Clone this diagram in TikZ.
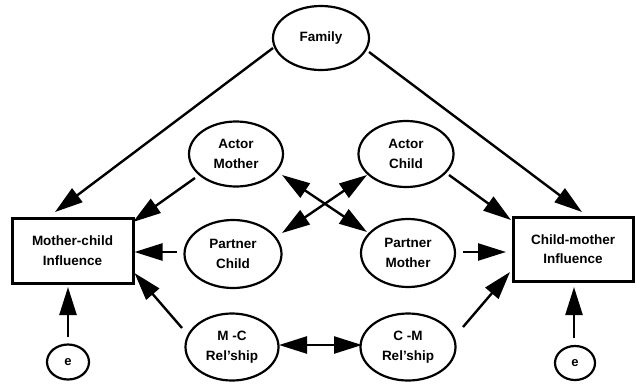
\documentclass[tikz,border=0pt]{standalone}
\usepackage{fontspec}
\setmainfont{Liberation Sans}
\usetikzlibrary{shapes.geometric,arrows.meta}
\begin{document}
\begin{tikzpicture}[x=1pt,y=-1pt,
  every node/.style={font=\bfseries\fontsize{13.5}{19.5}\selectfont, align=center, inner sep=0pt},
  latent/.style={ellipse, draw, line width=2.2pt},
  obsbox/.style={rectangle, draw, line width=3pt},
  conn/.style={line width=2.4pt, -{Triangle[length=28pt,width=17pt]}},
  bconn/.style={line width=2.4pt, {Triangle[length=28pt,width=17pt]}-{Triangle[length=28pt,width=17pt]}}]
\useasboundingbox (0,0) rectangle (636,383);
\node[latent, minimum width=96pt, minimum height=64pt] (fam) at (321,38) {Family};
\node[latent, minimum width=94pt, minimum height=65pt] (am) at (236,154) {Actor\\Mother};
\node[latent, minimum width=95pt, minimum height=66pt] (ac) at (406,154) {Actor\\Child};
\node[latent, minimum width=97pt, minimum height=68pt] (pc) at (233,254) {Partner\\Child};
\node[latent, minimum width=94pt, minimum height=68pt] (pm) at (408,253) {Partner\\Mother};
\node[latent, minimum width=93pt, minimum height=67pt] (mc) at (232,347) {M -C\\Rel'ship};
\node[latent, minimum width=95pt, minimum height=67pt] (cm) at (408,347) {C -M\\Rel'ship};
\node[obsbox, minimum width=121pt, minimum height=65pt] (mcb) at (72.5,250.5) {Mother-child\\Influence};
\node[obsbox, minimum width=120pt, minimum height=64pt] (cmb) at (573,249) {Child-mother\\Influence};
\node[latent, minimum width=42pt, minimum height=35pt] (el) at (68,362) {\fontsize{13}{15}\selectfont e};
\node[latent, minimum width=40pt, minimum height=34pt] (er) at (575,363) {\fontsize{13}{15}\selectfont e};

\draw[conn] ([shift={(-48,10)}]fam.center) -- ([shift={(-17.5,-38.5)}]mcb.center);
\draw[conn] ([shift={(48,14)}]fam.center) -- ([shift={(9,-37)}]cmb.center);
\draw[conn] ([shift={(-41,24)}]am.center) -- ([shift={(60.5,-28.5)}]mcb.center);
\draw[conn] ([shift={(43,21)}]ac.center) -- ([shift={(-62,-29)}]cmb.center);
\draw[conn] ([shift={(-56,-2)}]pc.center) -- ([shift={(62,1.5)}]mcb.center);
\draw[conn] ([shift={(55,-1)}]pm.center) -- ([shift={(-67,3)}]cmb.center);
\draw[conn] ([shift={(-50,-19)}]mc.center) -- ([shift={(62,22.5)}]mcb.center);
\draw[conn] ([shift={(55,-20)}]cm.center) -- ([shift={(-63,23)}]cmb.center);
\draw[bconn] ([shift={(47,-2)}]mc.center) -- ([shift={(-46,-2)}]cm.center);
\draw[bconn] ([shift={(46,21)}]am.center) -- ([shift={(-41,-21)}]pm.center);
\draw[bconn] ([shift={(-39,21)}]ac.center) -- ([shift={(49,-21)}]pc.center);
\draw[conn] ([shift={(0,-25)}]el.center) -- ([shift={(-4.5,36.5)}]mcb.center);
\draw[conn] ([shift={(-1,-25)}]er.center) -- ([shift={(1,38)}]cmb.center);
\end{tikzpicture}
\end{document}
